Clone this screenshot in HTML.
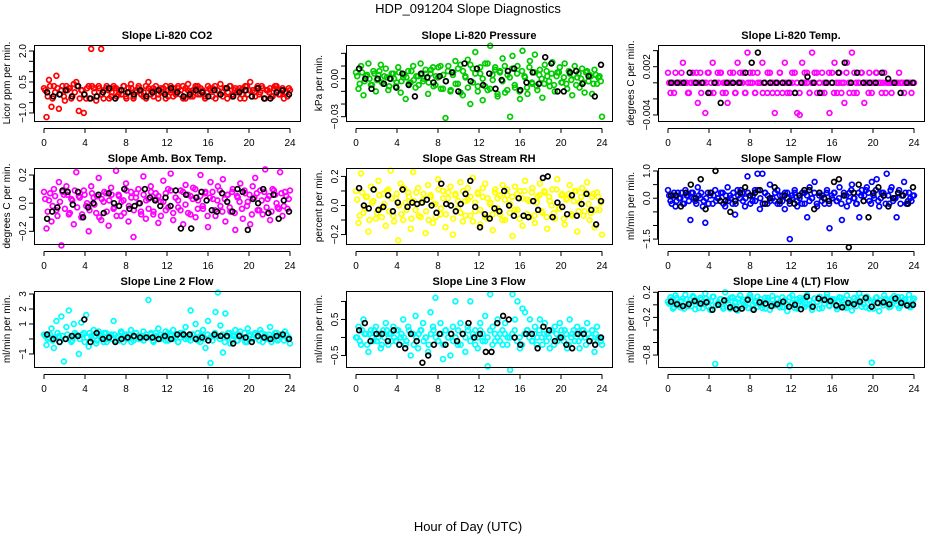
<!DOCTYPE html>
<html><head><meta charset="utf-8"><title>HDP_091204 Slope Diagnostics</title>
<style>
html,body{margin:0;padding:0;background:#fff;}
svg{display:block;font-family:"Liberation Sans",sans-serif;}
</style></head>
<body>
<svg id="chart" width="936" height="540" viewBox="0 0 936 540" xmlns="http://www.w3.org/2000/svg">
<rect x="0" y="0" width="936" height="540" fill="#fff"/>
<text x="468" y="13" font-size="13" text-anchor="middle">HDP_091204  Slope Diagnostics</text>
<text x="468" y="531" font-size="13" text-anchor="middle">Hour of Day (UTC)</text>
</svg>
<script>
// ---- data ----
const hourTicks=[0,4,8,12,16,20,24];

const co2Vals=[0.2,-1.2,0.6,-0.7,0.3,0.8,-0.8,0.1,-0.2,0.3,0.2,-0.3,0.4,0.5,-0.9,0.1,-1.0,-0.3,0.3,2.1,0.2,-0.4,0.3,2.1,-0.3,0.2,0.1,-0.2,0.3,0.2,-0.1,0.1,0.3,-0.2,0.2,0.4,-0.3,0.0,0.2,0.1,-0.2,0.3,0.5,-0.1,0.2,0.1,-0.3,0.2,0.0,0.3,-0.2,0.1,0.2,-0.1,0.3,0.1,-0.3,0.2,0.4,-0.2,0.1,0.3,-0.1,0.2,0.0,-0.2,0.3,0.1,0.2,-0.3,0.1,0.4,-0.2,0.2,0.0,0.3,-0.1,0.2,0.1,-0.3,0.2,0.3,-0.1,0.5,0.1,-0.2,0.3,0.0,0.2,-0.3,0.1,0.2,-0.2,0.3,0.1,-0.1,0.2,0.0,-0.2,0.1];
const co2Core=[0.1,-0.2,0.3,-0.3,0.0,0.2,-0.1,0.3,-0.4,0.1,0.2,-0.2,0.0,0.3,-0.3,0.1,-0.1,0.2,-0.3,0.3,0.0,-0.2,0.2,-0.1,0.1,0.3,-0.3,0.0,0.2,-0.2,0.1,-0.1,0.3,-0.3,0.0,0.2,-0.2,0.1,0.3,-0.1,0.0,-0.3,0.2,0.1,-0.2,0.3,-0.1,0.0,0.2,-0.3,0.1,0.3,-0.2,0.0,0.2,-0.1,0.3,-0.3,0.1,0.0,-0.2,0.2,0.3,-0.1,0.1,-0.3,0.0,0.2,-0.2,0.3,0.1,-0.1,0.0,0.2,-0.3,0.3,-0.2,0.1,0.0,0.2,-0.1,-0.3,0.3,0.1,-0.2,0.0,0.2,-0.1,0.3,-0.3,0.1,0.0,-0.2,0.2,0.3,-0.1,0.1,-0.3,0.0,0.2];
const co2Black=[0.0,-0.2,-0.1,0.1,-0.2,0.3,-0.1,-0.3,-0.2,0.0,0.2,-0.3,0.1,0.0,-0.1,0.1,-0.2,0.0,0.1,-0.1,0.2,0.0,-0.2,-0.1,0.1,0.0,-0.2,0.1,-0.1,0.2,-0.2,0.0,0.1,-0.2,0.2,-0.3,-0.3,0.0,0.1,-0.1];
const co2Ticks=[-1,-0.5,0,0.5,1,1.5,2];
const co2Labels=['\u22121.0','','','0.5','','','2.0'];

const presVals=[0.005,-0.008,0.010,-0.013,0.002,0.012,-0.005,0.006,-0.010,0.003,0.011,-0.004,0.008,-0.009,0.000,0.004,-0.006,0.009,-0.011,0.001,-0.016,0.006,-0.003,0.010,-0.007,0.002,0.012,-0.002,0.007,-0.012,0.004,0.009,-0.005,0.001,0.010,-0.008,-0.031,0.006,-0.010,0.003,0.014,-0.004,0.011,-0.013,0.002,0.015,-0.020,0.008,0.021,-0.006,0.004,-0.017,0.012,-0.009,0.026,-0.001,0.009,-0.014,0.006,0.016,-0.011,0.003,-0.030,0.018,-0.007,0.010,-0.016,0.022,0.001,-0.012,0.014,-0.004,0.019,-0.009,0.007,-0.015,0.011,0.002,-0.006,0.013,-0.010,0.005,0.009,-0.003,0.012,-0.008,0.004,-0.013,0.010,0.001,-0.007,0.008,-0.011,0.006,0.003,-0.012,0.007,-0.004,0.002,-0.030];
const presCore=[0.002,-0.004,0.005,-0.002,0.003,0.000,-0.005,0.004,-0.001,0.006,-0.003,0.002,0.001,-0.006,0.004,0.000,-0.003,0.005,-0.002,0.003,0.001,-0.004,0.006,-0.001,0.002,-0.005,0.003,0.000,0.004,-0.003,0.007,-0.006,0.002,0.009,-0.008,0.003,-0.002,0.010,-0.009,0.005,-0.004,0.008,-0.011,0.006,0.001,-0.007,0.011,-0.003,0.004,-0.010,0.009,0.000,-0.006,0.012,-0.008,0.003,0.007,-0.012,0.005,-0.002,0.010,-0.009,0.001,0.008,-0.005,0.004,-0.010,0.006,0.002,-0.007,0.009,-0.003,0.005,-0.006,0.003,0.000,-0.004,0.006,-0.002,0.004,-0.005,0.002,0.005,-0.003,0.001,-0.004,0.006,-0.001,0.003,-0.005,0.004,0.000,-0.003,0.005,-0.002,0.002,-0.004,0.003,0.001,-0.002];
const presBlack=[0.008,0.000,-0.008,0.000,-0.004,0.000,-0.007,0.004,-0.005,-0.014,0.004,0.001,-0.003,0.002,-0.002,0.005,-0.010,0.012,-0.002,0.008,-0.005,0.004,-0.008,-0.001,0.006,0.008,-0.009,-0.003,0.005,-0.004,0.017,0.012,-0.010,-0.010,0.005,0.006,-0.004,0.002,-0.014,0.011];
const presTicks=[-0.03,-0.02,-0.01,0,0.01,0.02];
const presLabels=['\u22120.03','','','0.00','',''];

const tempVals=[0.00125,-0.00125,0,0.00125,0,0,0.0025,0,-0.00125,0,0.00125,0,-0.0025,0.00125,0,-0.00375,0.00125,-0.00125,0.0025,0,0.00125,0.00125,-0.00125,0,-0.0025,0.00125,0,-0.00125,0.0025,0.00125,0,-0.00125,0.00375,0.00125,0,-0.00125,0.00125,0,0.0025,0,-0.00125,0.00125,0,-0.00375,-0.00125,0.00125,0,0.0025,-0.00125,0,0.00125,-0.00125,-0.00375,-0.004,0.0025,0.00125,0,-0.00125,0.00375,0.00125,-0.00125,0,0.00125,-0.00125,0,-0.00375,0.00125,0.0025,-0.00125,0.00125,0,-0.0025,0.0025,-0.00125,0.00375,0.00125,-0.00125,0,0.00125,-0.0025,0,0.00125,-0.00125,0,0.00125,0,-0.00125,0.00125,0,0,-0.00125,0,0,0.00125,0,-0.00125,0,0,-0.00125,0];
const tempCore=[0,0,-0.00125,0,0,0.00125,0,0,-0.00125,0,0,0.00125,0,-0.00125,0,0,0.00125,0,-0.00125,0,0,0.00125,0,-0.00125,0,0,0.00125,-0.00125,0,0,0.00125,-0.00125,0,0,0.00125,-0.00125,0,0,-0.00125,0,0.00125,0,-0.00125,0,0,0.00125,-0.00125,0,0,-0.00125,0,0.00125,0,-0.00125,0,0,0.00125,-0.00125,0,0,0.00125,0,-0.00125,0,0,0.00125,0,-0.00125,0,0,-0.00125,0,0.00125,0,0,-0.00125,0,0,0.00125,0,0,-0.00125,0,0,0.00125,0,0,0,-0.00125,0,0,0,0,0,0,0,0,0,0,0];
const tempBlack=[0,0,0,0.00125,0,0,-0.00125,0,-0.0025,0,0,0,0.00125,0.0025,0.00375,0,0,0,0,0,-0.00125,0,0.00075,0,-0.00125,0,0,0.00125,0.0025,0,0.00125,0,0,0,0.00125,0.0005,0,-0.00125,0,0];
const tempTicks=[-0.004,-0.002,0,0.002,0.004];
const tempLabels=['\u22120.004','','','0.002',''];

const ambVals=[0.08,-0.18,0.02,-0.13,0.10,-0.05,0.15,-0.30,0.06,0.12,-0.08,0.03,-0.15,0.22,0.05,-0.10,0.09,-0.02,-0.20,0.12,0.04,-0.07,0.18,-0.12,0.01,0.07,-0.16,0.11,-0.04,0.23,0.06,-0.09,0.02,0.14,-0.13,0.08,-0.24,0.04,0.10,-0.06,0.19,-0.11,0.03,0.12,-0.08,0.07,-0.14,0.01,0.16,-0.05,0.10,0.21,-0.12,0.04,-0.03,0.09,-0.15,0.13,-0.07,0.05,0.11,-0.10,0.02,0.20,-0.04,0.08,-0.17,0.15,0.03,-0.09,0.12,-0.02,0.17,-0.13,0.06,-0.06,0.10,-0.19,0.04,0.14,-0.11,0.07,0.01,-0.15,0.12,0.18,-0.05,0.09,-0.08,0.24,0.03,-0.12,0.10,0.06,-0.03,0.22,-0.09,0.08,-0.04,0.09];
const ambCore=[0.03,-0.06,0.07,-0.02,0.05,-0.09,0.01,0.08,-0.04,0.06,-0.07,0.02,0.09,-0.03,0.04,-0.08,0.06,0.00,-0.05,0.07,-0.01,0.05,-0.10,0.03,0.08,-0.06,0.02,0.06,-0.03,-0.09,0.05,0.01,-0.07,0.09,-0.02,0.04,-0.05,0.07,0.00,-0.08,0.06,0.02,-0.04,0.08,-0.06,0.03,0.05,-0.09,0.01,0.07,-0.03,0.09,-0.07,0.04,0.02,-0.05,0.08,-0.01,0.06,-0.08,0.03,0.10,-0.04,0.05,-0.02,0.07,-0.09,0.04,0.08,-0.05,0.02,0.09,-0.06,0.03,0.06,-0.03,0.08,-0.07,0.05,0.01,-0.04,0.09,-0.02,0.06,-0.08,0.04,0.07,-0.05,0.02,0.08,-0.03,0.05,-0.06,0.09,0.00,-0.04,0.07,-0.02,0.05,0.03];
const ambBlack=[-0.11,-0.06,-0.03,0.09,0.08,-0.01,0.08,-0.10,-0.03,0.00,0.06,-0.07,0.07,0.00,-0.02,0.10,-0.04,-0.02,0.00,0.10,0.04,0.02,-0.02,0.04,-0.02,0.09,-0.18,0.06,-0.18,0.04,0.08,0.02,-0.05,-0.06,0.07,0.01,-0.06,0.10,0.08,-0.19,0.03,0.00,0.10,-0.07,0.06,-0.11,0.02,-0.06];
const ambTicks=[-0.2,-0.1,0,0.1,0.2];
const ambLabels=['\u22120.2','','0.0','','0.2'];

const rhVals=[0.10,-0.12,0.22,-0.05,0.06,-0.18,0.13,0.03,-0.09,0.17,-0.02,0.08,-0.14,0.11,0.24,-0.07,0.05,-0.24,0.15,-0.10,0.02,0.09,-0.16,0.23,-0.03,0.12,-0.08,0.04,-0.19,0.14,0.07,-0.12,0.01,0.18,-0.06,0.10,-0.15,0.05,0.13,-0.20,0.08,-0.02,0.16,-0.11,0.03,0.12,-0.07,0.19,-0.04,0.09,-0.13,0.06,0.15,-0.09,0.02,-0.17,0.11,0.05,-0.06,0.14,-0.10,0.07,0.01,-0.21,0.13,-0.03,0.10,-0.14,0.17,0.04,-0.08,0.12,-0.12,0.06,0.15,-0.05,0.09,-0.16,0.03,0.11,-0.09,0.18,-0.02,0.08,-0.13,0.05,0.14,-0.07,0.10,-0.18,0.02,0.12,-0.04,0.16,-0.10,0.06,-0.15,0.09,-0.03,-0.20];
const rhCore=[0.04,-0.07,0.09,-0.02,0.06,-0.10,0.02,0.11,-0.05,0.07,-0.08,0.01,0.10,-0.04,0.05,-0.11,0.08,0.00,-0.06,0.12,-0.03,0.06,-0.09,0.03,0.09,-0.07,0.02,0.08,-0.04,-0.10,0.06,0.01,-0.08,0.11,-0.02,0.05,-0.06,0.09,0.00,-0.09,0.07,0.03,-0.05,0.10,-0.07,0.04,0.06,-0.11,0.02,0.08,-0.03,0.12,-0.08,0.05,0.01,-0.06,0.09,-0.02,0.07,-0.10,0.04,0.11,-0.05,0.06,-0.03,0.08,-0.09,0.05,0.10,-0.06,0.03,0.09,-0.07,0.02,0.07,-0.04,0.10,-0.08,0.06,0.00,-0.05,0.11,-0.02,0.07,-0.09,0.04,0.08,-0.06,0.03,0.10,-0.04,0.06,-0.07,0.09,0.01,-0.05,0.08,-0.03,0.06,0.02];
const rhBlack=[0.12,0.00,-0.02,0.11,-0.03,-0.01,0.07,-0.04,0.02,0.11,-0.01,0.02,0.01,0.02,0.04,0.00,-0.05,0.15,0.01,0.00,-0.04,0.01,0.08,0.17,-0.01,-0.15,-0.06,-0.09,-0.02,-0.04,0.10,0.00,-0.07,0.05,-0.07,-0.08,0.03,-0.03,0.19,0.20,-0.08,0.02,-0.01,-0.06,0.07,-0.07,0.01,0.08,-0.03,-0.13,0.03];
const rhTicks=[-0.2,-0.1,0,0.1,0.2];
const rhLabels=['\u22120.2','','0.0','','0.2'];

const sampleVals=[0.3,-0.1,0.1,-0.3,0.2,0.0,-0.2,0.3,0.1,-0.8,0.2,-0.1,0.4,0.0,-0.3,-0.9,0.2,0.1,-0.2,0.3,0.0,-0.1,0.2,-0.3,0.4,0.1,-0.2,-0.6,0.3,0.0,0.2,-0.3,0.8,0.1,-0.1,0.3,0.9,-0.4,0.9,0.2,-0.2,0.5,0.0,-0.1,0.3,-0.2,0.1,-0.4,0.2,-1.5,0.0,0.3,-0.3,0.1,0.2,-0.2,-0.7,0.4,0.0,0.6,-0.3,0.2,0.1,-0.2,0.3,-1.1,0.0,0.2,-0.1,0.4,-0.8,0.1,-0.3,0.2,0.5,0.0,-0.2,-0.7,0.3,0.1,0.4,-0.1,0.6,0.0,0.7,-0.3,0.2,0.1,0.9,-0.2,0.4,0.0,-0.7,0.3,0.1,0.6,-0.2,0.2,-0.1,0.1];
const sampleCore=[0.1,-0.2,0.2,-0.1,0.0,0.2,-0.2,0.1,-0.1,0.2,0.0,-0.2,0.1,0.2,-0.1,0.0,-0.2,0.2,0.1,-0.1,0.0,0.2,-0.2,0.1,-0.1,0.0,0.2,-0.2,0.1,0.3,-0.1,0.0,0.2,-0.2,0.1,-0.1,0.3,0.0,-0.2,0.2,0.1,-0.1,0.0,0.2,-0.2,0.1,-0.1,0.2,0.0,-0.2,0.1,0.2,-0.1,0.0,-0.2,0.2,0.1,-0.1,0.0,0.2,-0.2,0.1,-0.1,0.0,0.2,-0.2,0.1,0.2,-0.1,0.0,-0.2,0.2,0.1,-0.1,0.3,0.0,-0.2,0.2,0.1,-0.1,0.3,0.2,-0.2,0.1,0.3,-0.1,0.0,0.2,-0.2,0.1,0.3,-0.1,0.0,0.2,-0.2,0.1,0.2,-0.1,0.0,0.1];
const sampleBlack=[0.1,0.1,-0.3,0.2,0.5,0.0,0.7,-0.4,0.2,1.0,-0.1,-0.1,-0.5,-0.1,0.2,0.4,0.1,0.2,0.3,-0.2,0.0,0.4,-0.1,0.1,-0.1,-0.2,0.1,0.3,0.3,-0.4,0.2,0.0,-0.1,0.6,0.7,0.1,-1.8,0.2,0.5,-0.1,-0.7,0.2,0.4,0.1,-0.3,0.0,0.2,0.1,-0.2,0.4];
const sampleTicks=[-1.5,-1,-0.5,0,0.5,1];
const sampleLabels=['\u22121.5','','','0.0','','1.0'];

const line2Vals=[0.3,-0.4,0.1,0.7,-0.6,1.2,0.2,1.5,-1.5,0.8,1.9,-0.2,1.0,0.3,-1.0,1.1,0.4,1.6,-0.5,0.2,0.6,-0.3,0.5,0.1,-0.2,0.4,0.0,0.3,1.2,-0.1,0.2,0.5,-0.2,0.3,0.1,0.6,-0.1,0.4,0.2,0.0,0.5,0.1,2.6,0.3,-0.1,0.4,0.7,0.0,0.2,0.5,-0.1,0.3,0.6,0.1,-0.2,0.4,0.2,0.8,0.0,1.9,0.3,1.0,-0.1,0.2,0.6,-0.6,1.2,-1.6,0.2,1.8,3.1,0.9,-0.9,1.7,0.4,-0.3,0.2,0.6,-0.1,0.5,0.1,-0.2,0.7,0.3,0.0,0.4,0.2,0.6,-0.2,0.3,0.1,0.8,0.0,0.4,-0.1,0.3,0.2,0.5,0.0,-0.3];
const line2Core=[0.2,0.0,0.3,-0.1,0.1,0.4,-0.2,0.2,0.0,0.3,0.1,-0.1,0.4,0.2,0.0,0.3,-0.2,0.1,0.4,0.0,0.2,-0.1,0.3,0.1,0.4,-0.2,0.2,0.0,0.3,0.1,-0.1,0.4,0.2,0.0,0.3,-0.2,0.1,0.4,0.0,0.2,-0.1,0.3,0.1,0.4,-0.2,0.2,0.0,0.3,0.1,-0.1,0.4,0.2,0.0,0.3,-0.2,0.1,0.4,0.0,0.2,-0.1,0.3,0.1,0.4,-0.2,0.2,0.0,0.3,0.1,-0.1,0.4,0.2,0.0,0.3,-0.2,0.1,0.4,0.0,0.2,-0.1,0.3,0.1,0.4,-0.2,0.2,0.0,0.3,0.1,-0.1,0.4,0.2,0.0,0.3,-0.2,0.1,0.4,0.0,0.2,-0.1,0.3,0.1];
const line2Black=[0.3,0.0,-0.2,0.0,0.2,0.2,1.3,-0.2,0.4,0.0,0.1,-0.2,0.0,0.1,0.2,0.1,0.1,0.1,0.0,0.2,0.0,0.3,0.3,0.3,0.0,0.1,-0.1,0.3,0.2,0.2,-0.3,0.2,0.1,-0.2,0.2,0.1,0.0,0.2,0.3,0.0];
const line2Ticks=[-1,0,1,2,3];
const line2Labels=['\u22121','','1','2','3'];

const line3Vals=[0.0,0.3,-0.2,0.5,0.1,-0.4,0.2,-0.1,0.3,0.0,-0.3,0.2,0.4,-0.2,0.1,0.3,-0.1,0.2,0.0,0.5,-0.2,0.3,-0.5,0.1,0.6,-0.3,0.2,0.4,0.0,-0.4,0.7,0.3,1.1,-0.1,0.4,-0.6,0.2,0.0,-0.5,0.3,1.0,-0.2,0.4,0.1,-0.4,0.3,1.0,0.0,0.2,-0.3,0.4,-0.1,0.6,-0.8,1.2,0.3,-0.1,0.5,0.1,-0.2,0.4,0.0,-0.9,1.2,0.5,1.0,-0.3,0.8,0.7,0.2,0.5,-0.1,0.3,0.0,0.5,-0.2,0.4,0.1,-0.3,0.2,0.3,-0.1,0.4,0.0,0.2,-0.3,0.5,0.1,-0.1,0.3,-0.3,0.2,0.0,0.4,-0.1,0.2,-0.4,0.3,0.0,-0.2];
const line3Core=[0.0,-0.1,0.2,0.1,-0.2,0.1,0.0,0.2,-0.1,0.1,-0.2,0.0,0.2,0.1,-0.1,0.0,0.2,-0.2,0.1,0.0,-0.1,0.2,0.1,-0.2,0.0,0.1,0.2,-0.1,0.0,-0.2,0.1,0.2,0.0,-0.1,0.1,-0.2,0.2,0.0,0.1,-0.1,0.0,0.2,-0.2,0.1,0.0,0.2,-0.1,0.1,-0.2,0.0,0.2,0.1,-0.1,0.0,0.2,-0.2,0.1,0.0,-0.1,0.2,0.1,-0.2,0.0,0.1,0.2,-0.1,0.0,-0.2,0.1,0.2,0.0,-0.1,0.1,-0.2,0.2,0.0,0.1,-0.1,0.0,0.2,-0.2,0.1,0.0,0.2,-0.1,0.1,-0.2,0.0,0.2,0.1,-0.1,0.0,0.2,-0.2,0.1,0.0,-0.1,0.1,0.0,-0.1];
const line3Black=[0.2,0.4,-0.1,0.1,0.1,-0.1,0.2,-0.2,-0.3,0.1,-0.1,-0.7,-0.5,-0.2,0.1,-0.2,0.1,-0.1,0.1,0.4,0.0,0.1,-0.4,-0.4,0.4,0.6,0.5,0.0,-0.2,0.1,0.1,-0.3,0.3,0.2,-0.1,0.0,-0.2,-0.3,0.1,0.1,-0.1,-0.2,0.0];
const line3Ticks=[-0.5,0,0.5,1];
const line3Labels=['\u22120.5','','0.5',''];

const line4Vals=[0.05,0.12,-0.06,0.15,0.02,-0.04,0.10,0.16,-0.02,0.08,0.14,-0.07,0.04,0.11,-0.05,0.18,0.06,-0.08,0.13,-0.94,0.01,0.09,-0.03,0.20,0.07,-0.06,0.12,0.03,-0.09,0.15,0.05,-0.02,0.10,0.16,-0.07,0.04,0.13,0.00,-0.05,0.11,0.07,-0.08,0.14,0.02,0.09,-0.04,0.12,0.06,-0.10,-0.97,0.15,0.03,-0.06,0.11,0.08,-0.03,0.16,0.01,-0.08,0.10,0.05,0.13,-0.05,0.07,0.17,-0.02,0.09,0.04,-0.07,0.12,0.06,-0.04,0.15,0.02,-0.09,0.11,0.07,0.18,-0.03,0.08,0.13,-0.06,-0.92,0.05,0.12,-0.10,0.03,0.15,0.07,-0.04,0.10,0.14,0.01,-0.05,0.12,0.08,0.02,0.16,-0.02,0.10];
const line4Core=[0.02,0.08,-0.04,0.11,0.00,0.06,-0.06,0.09,0.03,-0.02,0.12,0.05,-0.05,0.08,0.01,0.10,-0.03,0.06,0.13,-0.01,0.04,0.09,-0.06,0.07,0.02,0.11,-0.04,0.05,0.10,-0.02,0.08,0.03,-0.05,0.12,0.01,0.06,-0.03,0.09,0.04,-0.06,0.11,0.02,0.07,-0.01,0.10,0.05,-0.04,0.08,0.00,0.12,0.03,-0.05,0.09,0.06,-0.02,0.11,0.01,0.07,-0.04,0.10,0.04,-0.06,0.08,0.02,0.12,-0.01,0.06,0.09,-0.03,0.05,0.11,0.00,-0.05,0.08,0.03,0.10,-0.02,0.07,0.12,0.01,-0.04,0.09,0.05,-0.06,0.11,0.02,0.07,-0.01,0.10,0.04,-0.03,0.08,0.06,0.12,-0.02,0.05,0.09,0.01,-0.04,0.07];
const line4Black=[0.05,0.01,-0.02,0.01,0.06,0.02,0.04,-0.08,0.00,0.07,-0.04,-0.07,-0.06,0.08,-0.08,0.04,0.02,-0.02,0.01,0.05,-0.03,0.00,-0.07,0.13,-0.03,0.10,0.08,0.06,-0.01,-0.04,0.03,0.01,0.05,0.11,-0.03,0.03,0.04,0.01,0.10,0.03,-0.01,0.00];
const line4Ticks=[-0.8,-0.6,-0.4,-0.2,0,0.2];
const line4Labels=['\u22120.8','','','\u22120.2','','0.2'];

// ---- layout ----
const NS='http://www.w3.org/2000/svg';
const svg=document.getElementById('chart');
const colX=[34,346,658], rowY=[45,168,291], BW=266, BH=76;
const panels=[
 {name:'co2',title:'Slope Li-820 CO2',ylab:'Licor ppm per min.',c:0,r:0,ymin:-1.39,ymax:2.29,ticks:co2Ticks,labels:co2Labels,color:'#ff0000',vals:co2Vals,core:co2Core,black:co2Black},
 {name:'pressure',title:'Slope Li-820 Pressure',ylab:'kPa per min.',c:1,r:0,ymin:-0.0334,ymax:0.0266,ticks:presTicks,labels:presLabels,color:'#00cc00',vals:presVals,core:presCore,black:presBlack},
 {name:'li820-temp',title:'Slope Li-820 Temp.',ylab:'degrees C per min.',c:2,r:0,ymin:-0.00475,ymax:0.0047,ticks:tempTicks,labels:tempLabels,color:'#ff00ff',vals:tempVals,core:tempCore,black:tempBlack},
 {name:'amb-box-temp',title:'Slope Amb. Box Temp.',ylab:'degrees C per min.',c:0,r:1,ymin:-0.29,ymax:0.25,ticks:ambTicks,labels:ambLabels,color:'#ff00ff',vals:ambVals,core:ambCore,black:ambBlack},
 {name:'gas-stream-rh',title:'Slope Gas Stream RH',ylab:'percent per min.',c:1,r:1,ymin:-0.265,ymax:0.258,ticks:rhTicks,labels:rhLabels,color:'#ffff00',vals:rhVals,core:rhCore,black:rhBlack},
 {name:'sample-flow',title:'Slope Sample Flow',ylab:'ml/min per min.',c:2,r:1,ymin:-1.68,ymax:1.11,ticks:sampleTicks,labels:sampleLabels,color:'#0000ff',vals:sampleVals,core:sampleCore,black:sampleBlack},
 {name:'line2-flow',title:'Slope Line 2 Flow',ylab:'ml/min per min.',c:0,r:2,ymin:-1.87,ymax:3.2,ticks:line2Ticks,labels:line2Labels,color:'#00ffff',vals:line2Vals,core:line2Core,black:line2Black},
 {name:'line3-flow',title:'Slope Line 3 Flow',ylab:'ml/min per min.',c:1,r:2,ymin:-0.82,ymax:1.29,ticks:line3Ticks,labels:line3Labels,color:'#00ffff',vals:line3Vals,core:line3Core,black:line3Black},
 {name:'line4-flow',title:'Slope Line 4 (LT) Flow',ylab:'ml/min per min.',c:2,r:2,ymin:-0.99,ymax:0.22,ticks:line4Ticks,labels:line4Labels,color:'#00ffff',vals:line4Vals,core:line4Core,black:line4Black}
];
function mk(tag,attrs,parent){const e=document.createElementNS(NS,tag);for(const k in attrs)e.setAttribute(k,attrs[k]);(parent||svg).appendChild(e);return e;}

panels.forEach(p=>{
  const L=colX[p.c], T=rowY[p.r];
  const xs=h=>L+10+h/24*246;
  const ys=v=>T+BH-(v-p.ymin)/(p.ymax-p.ymin)*BH;
  const g=mk('g',{});
  
  
  const t=mk('text',{x:L+BW/2,y:T-6,'font-size':11,'font-weight':'bold','text-anchor':'middle'},g);
  t.textContent=p.title;
  
  
  const yl=mk('text',{x:0,y:0,'font-size':10,'text-anchor':'middle',transform:`translate(${L-24},${T+BH/2}) rotate(-90)`},g);
  yl.textContent=p.ylab;
  
  
  const pts=mk('g',{fill:'none',stroke:p.color,'stroke-width':1.7},g);
  
  
  p.vals.forEach((v,i)=>{
    const c=mk('circle',{cx:xs(i*24/(p.vals.length-1)).toFixed(1),cy:ys(v).toFixed(1),r:2.4},pts);
    
    
  });
  p.core.forEach((v,i)=>{
    const c=mk('circle',{cx:xs((i+0.5)*24/p.core.length).toFixed(1),cy:ys(v).toFixed(1),r:2.4},pts);
    
    
  });
  const bp=mk('g',{fill:'none',stroke:'#000','stroke-width':1.7},g);
  
  
  p.black.forEach((v,i)=>{
    const h=0.3+i*23.6/(p.black.length-1);
    const c=mk('circle',{cx:xs(h).toFixed(1),cy:ys(v).toFixed(1),r:2.4},bp);
    
    
  });
  const box=mk('rect',{x:L+0.5,y:T+0.5,width:BW,height:BH,fill:'none',stroke:'#000','stroke-width':1},g);
  
  
  const xa=mk('g',{},g);
  
  
  mk('line',{x1:xs(0),x2:xs(24),y1:T+BH+7.5,y2:T+BH+7.5,stroke:'#000'},xa);
  hourTicks.forEach(h=>{
    mk('line',{x1:xs(h),x2:xs(h),y1:T+BH+7.5,y2:T+BH+12,stroke:'#000'},xa);
    const tl=mk('text',{x:xs(h),y:T+BH+25,'font-size':10,'text-anchor':'middle'},xa);
    tl.textContent=h;
    
    
  });
  const ya=mk('g',{},g);
  
  
  mk('line',{x1:L-0.5,x2:L-0.5,y1:ys(p.ticks[0]),y2:ys(p.ticks[p.ticks.length-1]),stroke:'#000'},ya);
  p.ticks.forEach((v,i)=>{
    const y=ys(v);
    mk('line',{x1:L-5,x2:L,y1:y,y2:y,stroke:'#000'},ya);
    if(p.labels[i]){
      const tl=mk('text',{x:0,y:0,'font-size':10,'text-anchor':'middle',transform:`translate(${L-8},${y}) rotate(-90)`},ya);
      tl.textContent=p.labels[i];
      
      
    }
  });
});
</script>
</body></html>
